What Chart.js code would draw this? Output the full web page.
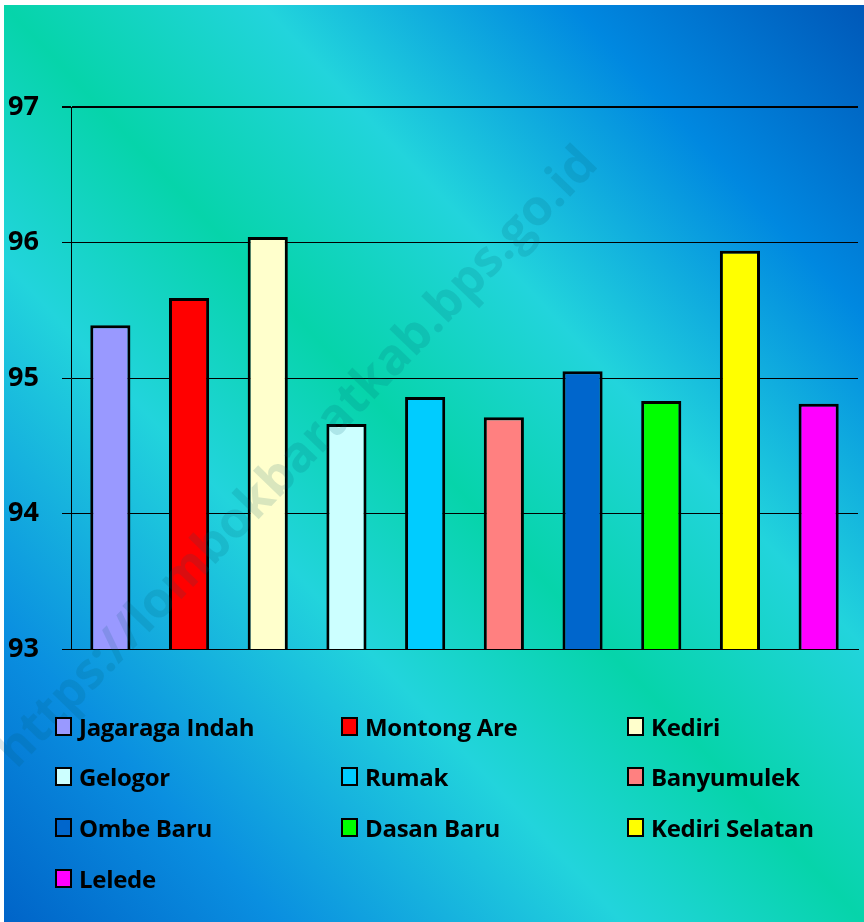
<!DOCTYPE html>
<html>
<head>
<meta charset="utf-8">
<script src="https://cdn.jsdelivr.net/npm/chart.js@4.4.1/dist/chart.umd.min.js"></script>
<style>
  body { margin: 0; background: #fff; }
  #wrap { position: relative; width: 864px; height: 922px; overflow: hidden; }
  #bg {
    position: absolute; left: 4px; top: 5px; right: 0; bottom: 0;
    background: linear-gradient(to bottom left, #0058b8 0%, #0088e0 17%, #22d4dc 35%, #06d4aa 50%, #22d4dc 64%, #0a8fe0 84%, #0064c8 100%);
  }
  canvas { position: absolute; left: 0; top: 0; }
  #legend {
    position: absolute; left: 55px; top: 701px;
    display: grid; grid-template-columns: 286px 286px 286px; grid-auto-rows: 50.6px;
    font: bold 24px 'Open Sans', sans-serif; color: #000; letter-spacing: -0.3px;
  }
  .item { display: flex; align-items: center; white-space: nowrap; }
  .box { width: 13px; height: 15px; border: 2px solid #000; margin-right: 7px; flex: none; }
</style>
</head>
<body>
<div id="wrap">
  <div id="bg"></div>
  <canvas id="chart" width="864" height="922"></canvas>
  <div id="legend"></div>
</div>
<script>
const categories = ['Jagaraga Indah', 'Montong Are', 'Kediri', 'Gelogor', 'Rumak',
                    'Banyumulek', 'Ombe Baru', 'Dasan Baru', 'Kediri Selatan', 'Lelede'];
const values = [95.39, 95.59, 96.04, 94.66, 94.86, 94.71, 95.05, 94.83, 95.94, 94.81];
const colors = ['#9999ff', '#ff0000', '#ffffcc', '#ccffff', '#00ccff',
                '#ff8080', '#0066cc', '#00ff00', '#ffff00', '#ff00ff'];
const yTicks = [93, 94, 95, 96, 97];
const watermark = 'https://lombokbaratkab.bps.go.id';

// legend as html, 3 columns like the original
const legend = document.getElementById('legend');
categories.forEach((c, i) => {
  const it = document.createElement('div');
  it.className = 'item';
  it.innerHTML = '<span class="box" style="background:' + colors[i] + '"></span><span>' + c + '</span>';
  legend.appendChild(it);
});

const watermarkPlugin = {
  id: 'watermark',
  afterDatasetsDraw(chart) {
    const ctx = chart.ctx;
    ctx.save();
    ctx.font = 'bold 40px "Open Sans", sans-serif';
    const w = ctx.measureText(watermark).width;
    const size = 40 * 840 / w;
    ctx.font = 'bold ' + size + 'px "Open Sans", sans-serif';
    ctx.translate(298, 458);
    ctx.rotate(-46 * Math.PI / 180);
    ctx.fillStyle = 'rgba(0, 90, 110, 0.15)';
    ctx.textAlign = 'center';
    ctx.textBaseline = 'middle';
    ctx.fillText(watermark, 0, 0);
    ctx.restore();
  }
};

new Chart(document.getElementById('chart'), {
  type: 'bar',
  data: {
    labels: categories,
    datasets: [{
      data: values,
      backgroundColor: colors,
      borderColor: '#000',
      borderWidth: 3,
      borderSkipped: false,
      categoryPercentage: 1,
      barPercentage: 0.51
    }]
  },
  options: {
    responsive: false,
    animation: false,
    layout: { padding: { left: 8, top: 107, right: 6, bottom: 273 } },
    plugins: { legend: { display: false }, tooltip: { enabled: false } },
    scales: {
      x: {
        grid: { display: false },
        ticks: { display: false },
        border: { display: true, color: '#000', width: 1 },
        afterFit: s => { s.height = 0; }
      },
      y: {
        min: yTicks[0],
        max: yTicks[yTicks.length - 1],
        afterBuildTicks: s => { s.ticks = yTicks.map(v => ({ value: v })); },
        grid: {
          color: '#000',
          lineWidth: c => (c.tick && c.tick.value === 97 ? 2 : 1),
          tickLength: 9
        },
        border: { display: true, color: '#000', width: 1 },
        ticks: {
          crossAlign: 'far',
          color: '#000',
          font: { family: "'Open Sans', sans-serif", size: 27, weight: 'bold' }
        },
        afterFit: s => { s.width = 63; }
      }
    }
  },
  plugins: [watermarkPlugin]
});
</script>
</body>
</html>
